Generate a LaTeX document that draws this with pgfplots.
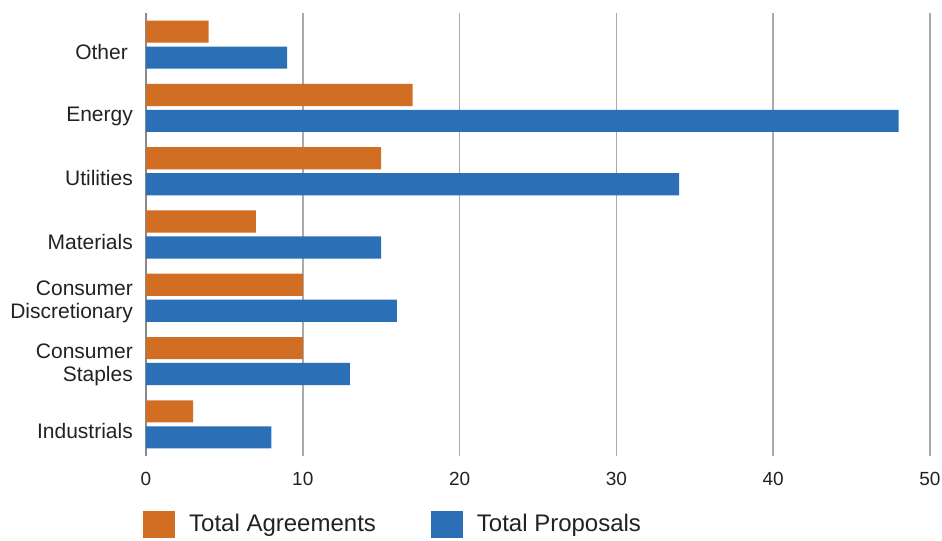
\documentclass[border=0pt]{standalone}
\usepackage{pgfplots}
\pgfplotsset{compat=1.18}
\usepackage{fontspec}
\setmainfont{Liberation Sans}
\definecolor{agr}{HTML}{D16E23}
\definecolor{prop}{HTML}{2B6FB6}
\definecolor{gridc}{HTML}{AAAAAA}
\definecolor{axc}{HTML}{8A8A8A}
\definecolor{txt}{HTML}{222222}
\newcommand{\two}[2]{\raisebox{2.5bp}[\height][\depth]{\begin{tabular}{@{}r@{}}#1\\#2\end{tabular}}}
\begin{document}
\begin{tikzpicture}
\path[use as bounding box] (-146bp,-85bp) rectangle (796bp,456bp);
\begin{axis}[
 at={(0,0)}, anchor=south west,
 scale only axis, width=784bp, height=443bp,
 xbar, bar width=0.35,
 xmin=0, xmax=50, ymin=-0.5, ymax=6.5,
 xtick={0,10,...,50},
 ytick={0,...,6},
 yticklabels={Industrials, {\two{Consumer}{Staples}}, {\two{Consumer}{Discretionary}}, Materials, Utilities, {\raisebox{-2bp}[\height][\depth]{Energy}}, {Other\hspace{5bp}}},
 yticklabel style={align=right, font=\fontsize{21bp}{23bp}\selectfont, text=txt, inner sep=0pt, xshift=-13bp, yshift=-7bp},
 xticklabel style={font=\fontsize{19bp}{22bp}\selectfont, text=txt, inner sep=0pt, yshift=-16bp},
 /pgf/number format/assume math mode=true,
 major tick length=0,
 axis line style={draw=none},
 xmajorgrids, grid style={draw=gridc, line width=1.5bp},
 extra x ticks={0}, extra x tick labels={}, extra x tick style={grid style={draw=axc, line width=2.2bp}},
 legend columns=2,
 legend style={at={(axis description cs:0,0)}, anchor=west, xshift=-3bp, yshift=-68bp, draw=none, fill=none, inner sep=0pt,
   font=\fontsize{24bp}{27bp}\selectfont, text=txt, nodes={inner sep=0pt},
   /tikz/every even column/.append style={column sep=55bp},
   /tikz/every odd column/.append style={column sep=14bp}},
 legend image code/.code={\fill[#1] (0bp,-13.5bp) rectangle (32bp,13.5bp);},
]
\addplot[fill=agr, draw=none, bar shift=0.205] coordinates {(3,0) (10,1) (10,2) (7,3) (15,4) (17,5) (4,6)};
\addlegendentry{Total Agreements}
\addplot[fill=prop, draw=none, bar shift=-0.205] coordinates {(8,0) (13,1) (16,2) (15,3) (34,4) (48,5) (9,6)};
\addlegendentry{Total Proposals}
\end{axis}
\end{tikzpicture}
\end{document}
